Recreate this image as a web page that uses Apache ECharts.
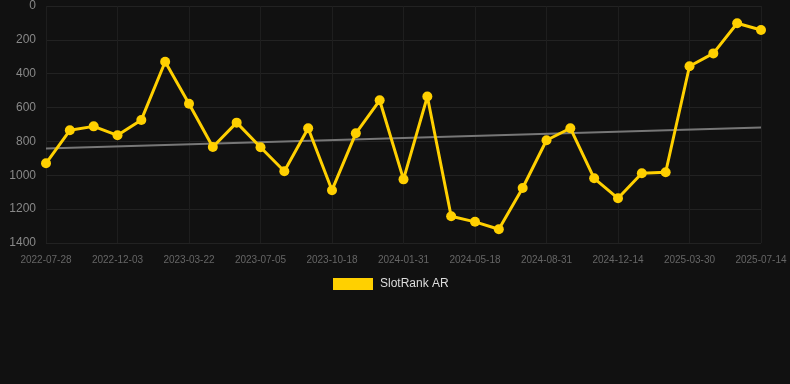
<!DOCTYPE html>
<html><head><meta charset="utf-8">
<script src="https://cdn.jsdelivr.net/npm/echarts@6/dist/echarts.min.js"></script>
<style>html,body{margin:0;padding:0;background:#111111;}#c{width:790px;height:384px;}</style>
</head><body><div id="c"></div>
<script>
const categories = [
  '2022-07-28','2022-09-09','2022-10-22','2022-12-03','2023-01-08','2023-02-13',
  '2023-03-22','2023-04-26','2023-05-31','2023-07-05','2023-08-09','2023-09-13',
  '2023-10-18','2023-11-22','2023-12-27','2024-01-31','2024-03-06','2024-04-12',
  '2024-05-18','2024-06-22','2024-07-27','2024-08-31','2024-10-05','2024-11-09',
  '2024-12-14','2025-01-18','2025-02-23','2025-03-30','2025-05-04','2025-06-08',
  '2025-07-14'
];
const rankValues = [
  929, 734, 711, 764, 673, 329, 577, 833, 689, 834,
  976, 722, 1088, 752, 557, 1024, 535, 1242, 1275, 1319,
  1075, 793, 722, 1018, 1136, 988, 982, 356, 280, 102, 142
];
const yTicks = [0, 200, 400, 600, 800, 1000, 1200, 1400];

// linear regression trend of the rank series
const n = rankValues.length;
let sx = 0, sy = 0, sxy = 0, sxx = 0;
rankValues.forEach((v, i) => { sx += i; sy += v; sxy += i * v; sxx += i * i; });
const slope = (n * sxy - sx * sy) / (n * sxx - sx * sx);
const icpt = (sy - slope * sx) / n;
const trend = rankValues.map((v, i) => i === 0 || i === n - 1 ? +(icpt + slope * i).toFixed(1) : null);

const chart = echarts.init(document.getElementById('c'));
chart.setOption({
  backgroundColor: '#111111',
  animation: false,
  grid: { left: 46, right: 29, top: 6, bottom: 141, containLabel: false },
  legend: {
    top: 273, left: 328,
    itemWidth: 40, itemHeight: 12, itemGap: 10,
    data: [{ name: 'SlotRank AR', icon: 'rect' }],
    textStyle: { color: '#dddddd', fontSize: 12, padding: [0, 0, 0, 2], fontFamily: 'Liberation Sans, Arial, sans-serif' }
  },
  xAxis: {
    type: 'category',
    data: categories,
    boundaryGap: false,
    axisLine: { show: false },
    axisTick: { show: false },
    axisLabel: { color: '#666666', fontSize: 10, interval: 2, margin: 12, fontFamily: 'Liberation Sans, Arial, sans-serif' },
    splitLine: { show: true, interval: 2, lineStyle: { color: '#1e1e1e', width: 1 } }
  },
  yAxis: {
    type: 'value',
    inverse: true,
    min: yTicks[0], max: yTicks[yTicks.length - 1], interval: 200,
    axisLine: { show: false },
    axisTick: { show: false },
    axisLabel: { color: '#888888', fontSize: 12, margin: 10, formatter: v => String(v), fontFamily: 'Liberation Sans, Arial, sans-serif' },
    splitLine: { lineStyle: { color: '#222222', width: 1 } }
  },
  series: [
    {
      name: 'SlotRank AR',
      type: 'line',
      data: rankValues,
      color: '#FFD000',
      lineStyle: { width: 3, color: '#FFD000' },
      symbol: 'circle',
      symbolSize: 10,
      itemStyle: { color: '#FFD000' },
      z: 3
    },
    {
      name: 'Trend',
      type: 'line',
      data: trend,
      connectNulls: true,
      symbol: 'none',
      lineStyle: { width: 2, color: '#777777' },
      z: 2
    }
  ]
});
</script></body></html>
